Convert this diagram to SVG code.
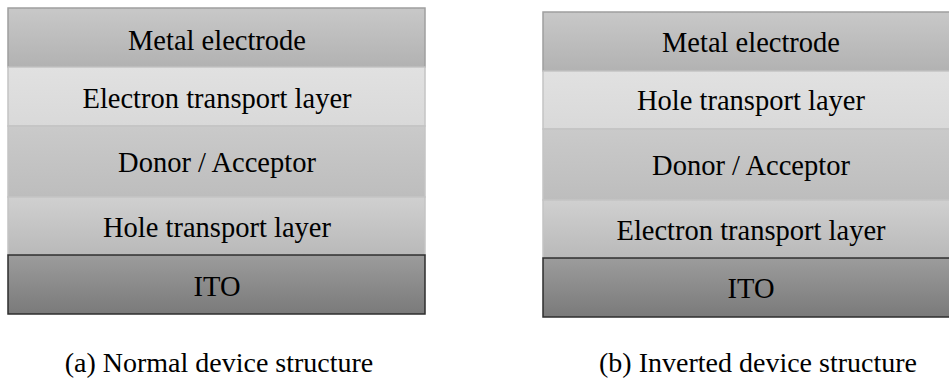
<svg xmlns="http://www.w3.org/2000/svg" width="949" height="383" viewBox="0 0 949 383">
<defs>
<linearGradient id="gMetal" x1="0" y1="0" x2="0" y2="1"><stop offset="0" stop-color="#c8c8c8"/><stop offset="1" stop-color="#b2b2b2"/></linearGradient>
<linearGradient id="gLight" x1="0" y1="0" x2="0" y2="1"><stop offset="0" stop-color="#e1e1e1"/><stop offset="1" stop-color="#d9d9d9"/></linearGradient>
<linearGradient id="gMid" x1="0" y1="0" x2="0" y2="1"><stop offset="0" stop-color="#cacaca"/><stop offset="1" stop-color="#bdbdbd"/></linearGradient>
<linearGradient id="gHtl" x1="0" y1="0" x2="0" y2="1"><stop offset="0" stop-color="#d0d0d0"/><stop offset="1" stop-color="#b9b9b9"/></linearGradient>
<linearGradient id="gIto" x1="0" y1="0" x2="0" y2="1"><stop offset="0" stop-color="#9c9c9c"/><stop offset="1" stop-color="#7a7a7a"/></linearGradient>
</defs>
<style>
text{font-family:"Liberation Serif","Times New Roman",serif;fill:#000;text-anchor:middle}
.t{font-size:28.5px}
.cap{font-size:28px}
.b{stroke:#c4c4c4;stroke-width:1.5}
.bm{stroke:#9f9f9f;stroke-width:1.5}
.bi{stroke:#2e2e2e;stroke-width:1.5}
</style>
<g id="stackA">
<g id="a-metal"><rect x="8" y="8" width="417" height="59" fill="url(#gMetal)" class="bm"/><text class="t" x="217" y="50">Metal electrode</text></g>
<g id="a-etl"><rect x="8" y="67" width="417" height="59" fill="url(#gLight)" class="b"/><text class="t" x="217" y="108">Electron transport layer</text></g>
<g id="a-da"><rect x="8" y="126" width="417" height="71" fill="url(#gMid)" class="b"/><text class="t" x="217" y="172">Donor / Acceptor</text></g>
<g id="a-htl"><rect x="8" y="197" width="417" height="58" fill="url(#gHtl)" class="b"/><text class="t" x="217" y="237">Hole transport layer</text></g>
<g id="a-ito"><rect x="8" y="255" width="417" height="59" fill="url(#gIto)" class="bi"/><text class="t" x="217" y="296">ITO</text></g>
</g>
<g id="stackB">
<g id="b-metal"><rect x="543" y="12" width="416" height="59" fill="url(#gMetal)" class="bm"/><text class="t" x="751" y="52">Metal electrode</text></g>
<g id="b-htl"><rect x="543" y="71" width="416" height="58" fill="url(#gLight)" class="b"/><text class="t" x="751" y="110">Hole transport layer</text></g>
<g id="b-da"><rect x="543" y="129" width="416" height="71" fill="url(#gMid)" class="b"/><text class="t" x="751" y="175">Donor / Acceptor</text></g>
<g id="b-etl"><rect x="543" y="200" width="416" height="58" fill="url(#gHtl)" class="b"/><text class="t" x="751" y="240">Electron transport layer</text></g>
<g id="b-ito"><rect x="543" y="258" width="416" height="59" fill="url(#gIto)" class="bi"/><text class="t" x="751" y="298">ITO</text></g>
</g>
<g id="captions">
<text class="cap" x="219" y="372">(a) Normal device structure</text>
<text class="cap" x="758" y="372">(b) Inverted device structure</text>
</g>
</svg>
